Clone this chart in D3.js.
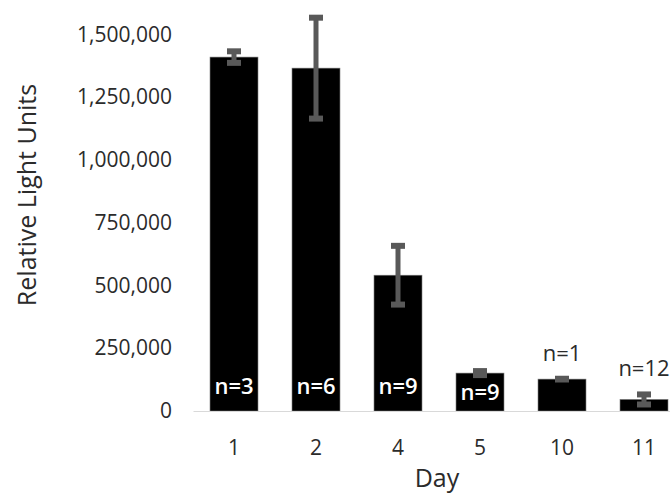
<!DOCTYPE html>
<html>
<head>
<meta charset="utf-8">
<script src="https://cdn.jsdelivr.net/npm/d3@7"></script>
<style>
  body { margin: 0; background: #fff; }
  text { font-family: "Open Sans", sans-serif; }
</style>
</head>
<body>
<div id="chart"></div>
<script>
// values
let days = ["1", "2", "4", "5", "10", "11"];
let rlu = [1410000, 1366000, 541000, 151000, 127000, 46000];
let errs = [23000, 201000, 117000, 8000, 1500, 20000];
let nLabels = ["n=3", "n=6", "n=9", "n=9", "n=1", "n=12"];
let yTicks = [0, 250000, 500000, 750000, 1000000, 1250000, 1500000];

let width = 670, height = 493;

function init() {
    let svg = d3.select("#chart").append("svg")
        .attr("width", width)
        .attr("height", height);

    let x = d3.scaleBand()
        .domain(days)
        .range([193, 685])
        .paddingInner(0.415)
        .paddingOuter(0.2075);

    let y = d3.scaleLinear()
        .domain([0, 1500000])
        .range([411, 34.5]);

    // y tick labels, no axis line
    let yAxis = d3.axisLeft(y)
        .tickValues(yTicks)
        .tickFormat(d3.format(","))
        .tickSize(0)
        .tickPadding(0);

    let gy = svg.append("g")
        .attr("transform", "translate(172,0)")
        .call(yAxis);
    gy.select(".domain").remove();
    gy.selectAll("text")
        .attr("font-size", 21)
        .attr("font-family", "Open Sans, sans-serif")
        .attr("fill", "#2b2b2b");

    // bars
    svg.append("g")
        .selectAll("rect")
        .data(days)
        .join("rect")
        .attr("x", d => x(d))
        .attr("width", x.bandwidth())
        .attr("y", (d, i) => y(rlu[i]))
        .attr("height", (d, i) => y(0) - y(rlu[i]))
        .attr("fill", "#000")
        .attr("stroke", "#777")
        .attr("stroke-width", 0.6);

    // x axis: light baseline + labels
    let xAxis = d3.axisBottom(x).tickSize(0).tickPadding(0);
    let gx = svg.append("g")
        .attr("transform", "translate(0," + y(0) + ")")
        .call(xAxis);
    gx.select(".domain").attr("stroke", "#d9d9d9").attr("stroke-width", 1.2);
    gx.selectAll("text")
        .attr("font-size", 21)
        .attr("font-family", "Open Sans, sans-serif")
        .attr("fill", "#2b2b2b")
        .attr("dy", null)
        .attr("y", 36)
        .attr("dominant-baseline", "central");

    // error bars
    let eg = svg.append("g").attr("stroke", "#595959");
    days.forEach((d, i) => {
        let cx = x(d) + x.bandwidth() / 2;
        let top = y(rlu[i] + errs[i]);
        let bot = y(rlu[i] - errs[i]);
        eg.append("line")
            .attr("x1", cx).attr("x2", cx)
            .attr("y1", top).attr("y2", bot)
            .attr("stroke-width", 5);
        [top, bot].forEach(cy => {
            eg.append("line")
                .attr("x1", cx - 7).attr("x2", cx + 7)
                .attr("y1", cy).attr("y2", cy)
                .attr("stroke-width", 6);
        });
    });

    // n labels: inside base, inside end, or above the error bar
    svg.append("g")
        .selectAll("text")
        .data(days)
        .join("text")
        .attr("x", d => x(d) + x.bandwidth() / 2)
        .attr("y", (d, i) => {
            let h = y(0) - y(rlu[i]);
            if (h > 60) return y(0) - 26;
            if (h > 35) return y(rlu[i]) + 18;
            return y(rlu[i] + errs[i]) - 27;
        })
        .attr("text-anchor", "middle")
        .attr("dominant-baseline", "central")
        .attr("font-size", 22)
        .attr("font-weight", (d, i) => (y(0) - y(rlu[i]) > 35) ? 600 : 400)
        .attr("fill", (d, i) => (y(0) - y(rlu[i]) > 35) ? "#fff" : "#2b2b2b")
        .text((d, i) => nLabels[i]);

    // axis titles
    svg.append("text")
        .attr("x", 437)
        .attr("y", 477)
        .attr("text-anchor", "middle")
        .attr("dominant-baseline", "central")
        .attr("font-size", 25)
        .attr("fill", "#2b2b2b")
        .text("Day");

    svg.append("text")
        .attr("transform", "translate(26,195) rotate(-90)")
        .attr("text-anchor", "middle")
        .attr("dominant-baseline", "central")
        .attr("font-size", 25)
        .attr("fill", "#2b2b2b")
        .text("Relative Light Units");
}

init();
</script>
</body>
</html>
